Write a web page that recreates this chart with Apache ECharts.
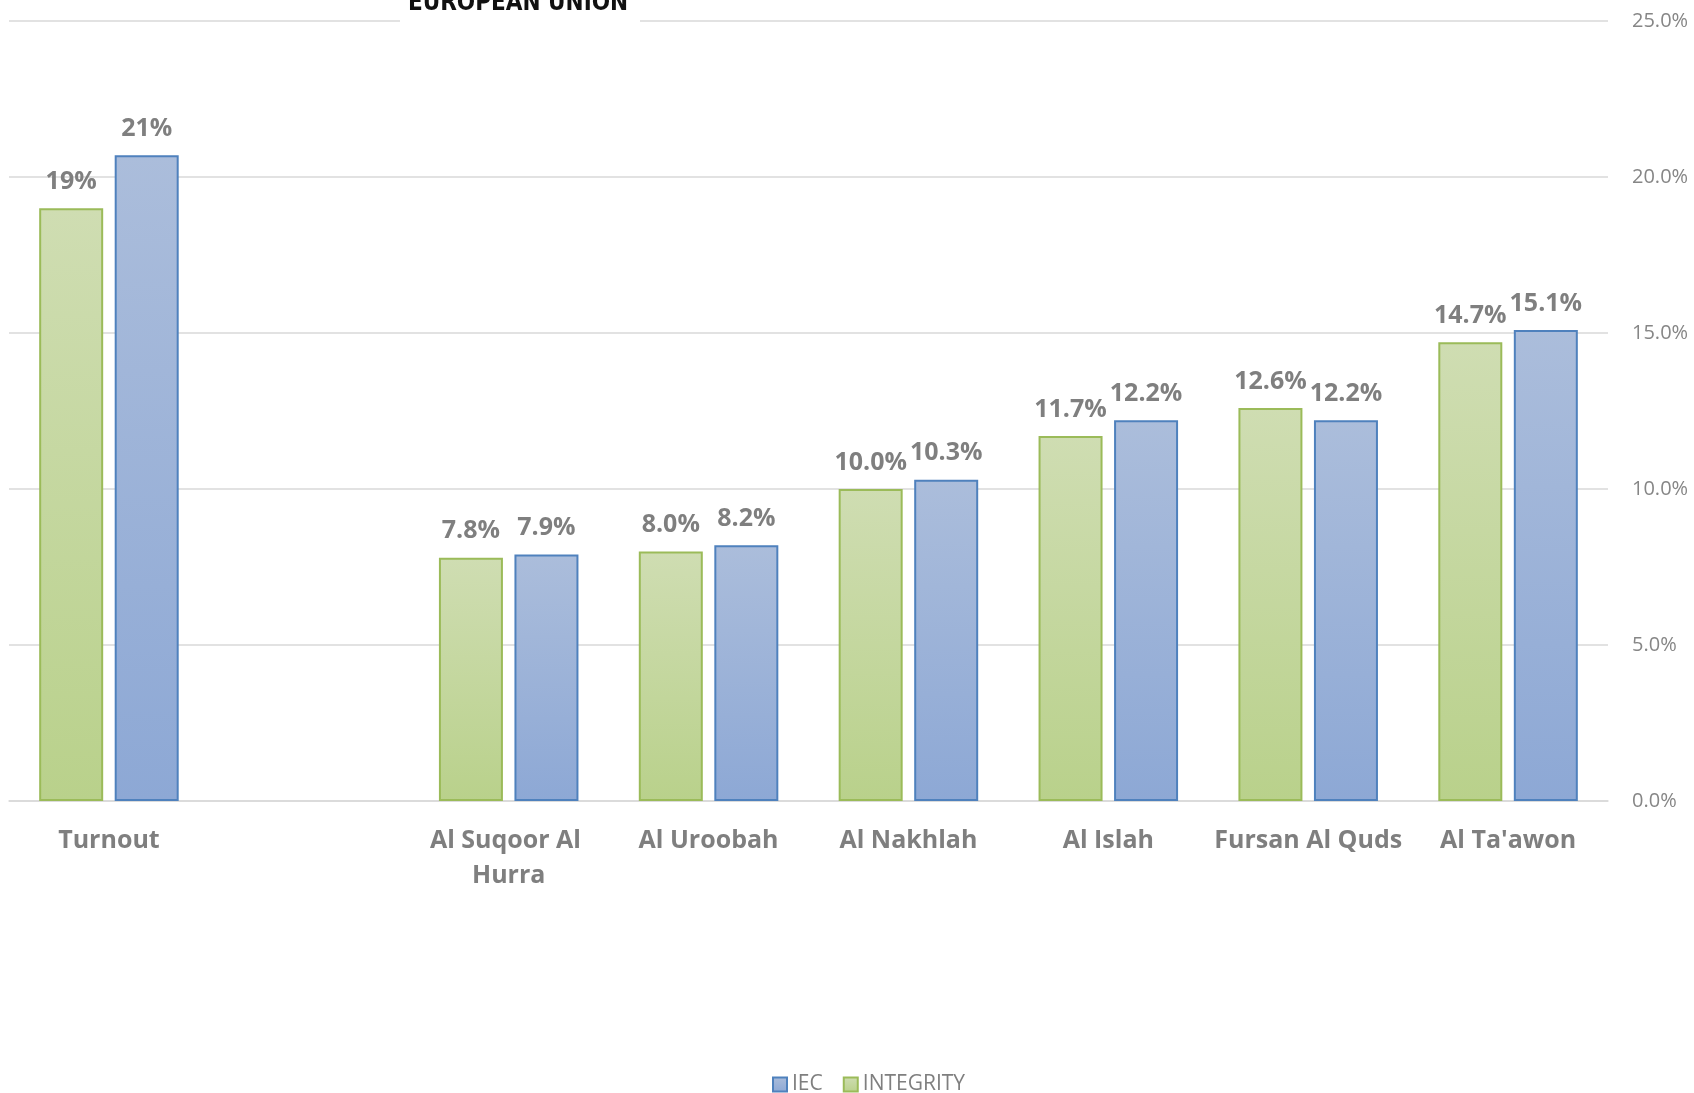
<!DOCTYPE html>
<html>
<head>
<meta charset="utf-8">
<script src="https://cdn.jsdelivr.net/npm/echarts@6/dist/echarts.min.js"></script>
<style>
html,body{margin:0;padding:0;background:#fff;}
#chart{width:1694px;height:1093px;}
</style>
</head>
<body>
<div id="chart"></div>
<script>
const categories = ['Turnout', '', 'Al Suqoor Al Hurra', 'Al Uroobah', 'Al Nakhlah', 'Al Islah', 'Fursan Al Quds', "Al Ta'awon"];
const integrityValues = [19.0, null, 7.8, 8.0, 10.0, 11.7, 12.6, 14.7];
const iecValues = [20.7, null, 7.9, 8.2, 10.3, 12.2, 12.2, 15.1];
const integrityLabels = ['19%', '', '7.8%', '8.0%', '10.0%', '11.7%', '12.6%', '14.7%'];
const iecLabels = ['21%', '', '7.9%', '8.2%', '10.3%', '12.2%', '12.2%', '15.1%'];
const legendNames = ['IEC', 'INTEGRITY'];
const headerText = 'EUROPEAN UNION';

const chart = echarts.init(document.getElementById('chart'), null, {renderer: 'canvas'});

const grad = (top, bottom) => new echarts.graphic.LinearGradient(0, 0, 0, 1, [
  {offset: 0, color: top}, {offset: 1, color: bottom}
]);
const valueLabel = (labels) => ({
  show: true,
  position: 'top',
  distance: 14,
  fontFamily: 'Open Sans',
  fontWeight: 'bold',
  fontSize: 25,
  color: '#7f7f7f',
  formatter: p => labels[p.dataIndex]
});

chart.setOption({
  animation: false,
  backgroundColor: '#ffffff',
  grid: {left: 9, right: 86, top: 21, bottom: 292, containLabel: false},
  legend: {
    data: legendNames,
    left: 772,
    top: 1074,
    padding: 0,
    itemWidth: 14,
    itemHeight: 14,
    itemGap: 20,
    icon: 'rect',
    textStyle: {fontFamily: 'Open Sans', fontSize: 21, color: '#7f7f7f'}
  },
  xAxis: {
    type: 'category',
    data: categories,
    axisLine: {lineStyle: {color: '#d9d9d9', width: 1.5}},
    axisTick: {show: false},
    axisLabel: {
      interval: 0,
      margin: 22,
      fontFamily: 'Open Sans',
      fontWeight: 'bold',
      fontSize: 25,
      lineHeight: 35,
      color: '#7f7f7f',
      width: 198,
      overflow: 'break'
    }
  },
  yAxis: {
    type: 'value',
    position: 'right',
    min: 0,
    max: 25,
    interval: 5,
    axisLine: {show: false},
    axisTick: {show: false},
    splitLine: {lineStyle: {color: '#d9d9d9', width: 1.5}},
    axisLabel: {
      margin: 24,
      fontFamily: 'Open Sans',
      fontSize: 20,
      color: '#868686',
      formatter: v => v.toFixed(1) + '%'
    }
  },
  series: [
    {
      name: 'INTEGRITY',
      type: 'bar',
      data: integrityValues,
      barWidth: 64,
      barGap: '18%',
      itemStyle: {color: grad('#cfddb2', '#b9d18b'), borderColor: '#9bbb59', borderWidth: 2},
      label: valueLabel(integrityLabels)
    },
    {
      name: 'IEC',
      type: 'bar',
      data: iecValues,
      barWidth: 64,
      barGap: '18%',
      itemStyle: {color: grad('#abbddb', '#8da8d5'), borderColor: '#4f81bd', borderWidth: 2},
      label: valueLabel(iecLabels)
    }
  ],
  graphic: [
    {type: 'rect', left: 400, top: 0, shape: {width: 240, height: 27}, style: {fill: '#ffffff'}, z: 100},
    {type: 'text', x: 518, y: 4, z: 101,
     style: {text: headerText, fontFamily: 'DejaVu Sans Condensed', fontWeight: 'bold', fontSize: 24, fill: '#111111', align: 'center', verticalAlign: 'middle'}}
  ]
});
</script>
</body>
</html>
